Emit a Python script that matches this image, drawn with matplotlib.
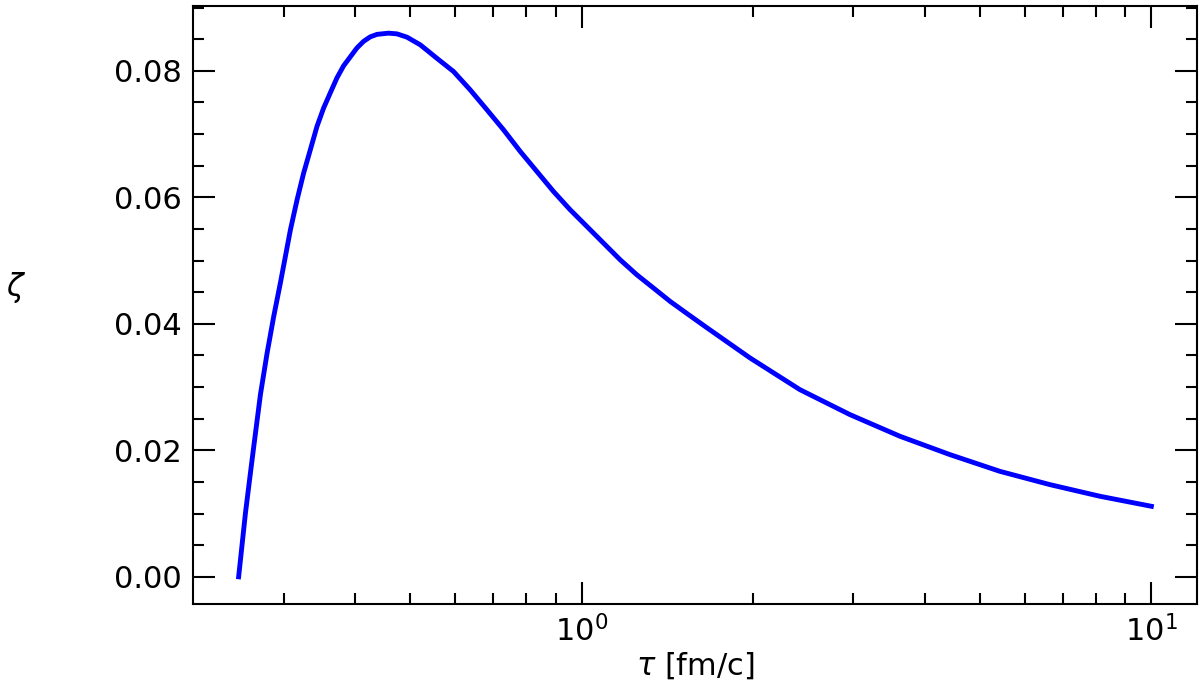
import matplotlib
matplotlib.use("Agg")
import matplotlib.pyplot as plt
from matplotlib.ticker import MultipleLocator

# Data (tau in fm/c, zeta dimensionless)
tau = [0.2500, 0.2570, 0.2622, 0.2657, 0.2730, 0.2805, 0.2881, 0.2960, 0.3082,
       0.3166, 0.3251, 0.3340, 0.3431, 0.3524, 0.3621, 0.3720, 0.3821, 0.3926,
       0.4034, 0.4143, 0.4256, 0.4373, 0.4582, 0.4740, 0.4936, 0.5208, 0.5386,
       0.5572, 0.5958, 0.6372, 0.6819, 0.7293, 0.7802, 0.8344, 0.8923, 0.9546,
       1.0212, 1.0920, 1.1682, 1.2495, 1.3366, 1.4296, 1.5292, 1.6583, 1.975,
       2.416, 2.958, 3.620, 4.430, 5.420, 6.632, 8.116, 10.0]
zeta = [0.0, 0.01011, 0.01643, 0.02054, 0.02880, 0.03539, 0.04118, 0.04650, 0.05487,
        0.05961, 0.06383, 0.06751, 0.07120, 0.07410, 0.07652, 0.07889, 0.08079, 0.08221,
        0.08363, 0.08466, 0.08537, 0.08576, 0.08595, 0.08584, 0.08532, 0.08411, 0.08305,
        0.08197, 0.07989, 0.07700, 0.07384, 0.07067, 0.06725, 0.06409, 0.06093, 0.05803,
        0.05540, 0.05277, 0.05013, 0.04776, 0.04566, 0.04355, 0.04165, 0.03939, 0.03460,
        0.02959, 0.02564, 0.02222, 0.01932, 0.01668, 0.01458, 0.01274, 0.01115]

x_label = r"$\tau$ [fm/c]"
y_label = r"$\zeta$"

fig = plt.figure(figsize=(12.04, 6.88), dpi=100)
ax = fig.add_axes([0.1603, 0.1221, 0.8339, 0.8692])
ax.plot(tau, zeta, color="blue", linewidth=3.5)
ax.set_xscale("log")

ax.yaxis.set_major_locator(MultipleLocator(0.02))
ax.yaxis.set_minor_locator(MultipleLocator(0.005))

for s in ax.spines.values():
    s.set_linewidth(1.5)
ax.tick_params(which="both", direction="in", top=True, right=True, width=1.5)
ax.tick_params(which="major", length=16, labelsize=22, pad=8)
ax.tick_params(which="minor", length=8)

ax.set_xlabel(x_label, fontsize=22, labelpad=2)
ax.set_ylabel(y_label, fontsize=22, rotation=0, va="center", ha="center")
ax.yaxis.set_label_coords(-0.176, 0.53)

fig.savefig("out.png", dpi=100)
